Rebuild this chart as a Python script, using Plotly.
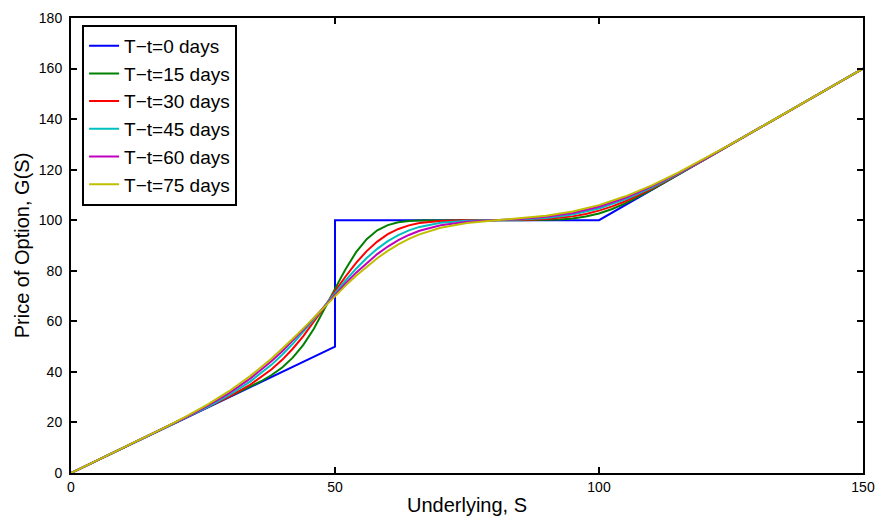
import plotly.graph_objects as go

# Payoff at expiry (T-t = 0 days)
s_0 = [0, 50, 50, 100, 150]
g_0 = [0, 50, 100, 100, 160]

s_15 = [0, 20, 30, 36, 38, 40, 42, 44, 46, 48, 49, 50, 51, 52, 54, 56, 58, 60, 62, 64, 66, 70, 80, 85, 90, 92.5, 95, 97.5, 100, 102.5, 105, 107.5, 110, 115, 120, 130, 140, 150]
g_15 = [0, 20, 30.0, 36.3, 38.76, 41.76, 45.62, 50.68, 57.07, 64.63, 68.69, 72.77, 76.79, 80.63, 87.37, 92.52, 96.0, 98.08, 99.17, 99.68, 99.89, 99.99, 100.0, 100.01, 100.1, 100.28, 100.68, 101.44, 102.68, 104.44, 106.68, 109.28, 112.1, 118.01, 124.0, 136.0, 148.0, 160.0]

s_30 = [0, 20, 26, 30, 34, 38, 40, 42, 44, 46, 48, 50, 52, 54, 56, 58, 60, 62, 64, 66, 70, 75, 80, 85, 90, 95, 97.5, 100, 102.5, 105, 110, 115, 120, 130, 140, 150]
g_30 = [0, 20, 26.02, 30.27, 35.01, 41.01, 44.77, 49.16, 54.17, 59.77, 65.74, 71.84, 77.74, 83.12, 87.78, 91.56, 94.46, 96.55, 97.96, 98.86, 99.70, 99.96, 100.02, 100.11, 100.47, 101.52, 102.47, 103.79, 105.47, 107.52, 112.47, 118.11, 124.02, 136.0, 148.0, 160.0]

s_45 = [0, 20, 26, 30, 34, 38, 40, 42, 44, 46, 48, 50, 52, 54, 56, 58, 60, 62, 64, 66, 70, 75, 80, 85, 90, 95, 100, 105, 110, 115, 120, 125, 130, 140, 150]
g_45 = [0, 20.01, 26.31, 30.90, 36.27, 42.88, 46.78, 51.11, 55.80, 60.81, 65.97, 71.14, 76.15, 80.83, 85.04, 88.67, 91.70, 94.13, 95.97, 97.35, 98.97, 99.76, 100.03, 100.30, 100.91, 102.24, 104.63, 108.24, 112.91, 118.30, 124.08, 130.02, 136.0, 148.0, 160.0]

s_60 = [0, 18, 22, 26, 30, 34, 38, 40, 42, 44, 46, 48, 50, 52, 54, 56, 58, 60, 62, 64, 66, 70, 75, 80, 85, 90, 95, 100, 105, 110, 115, 120, 125, 130, 140, 150]
g_60 = [0, 18.10, 22.28, 26.73, 31.68, 37.43, 44.27, 48.14, 52.29, 56.70, 61.26, 65.92, 70.54, 75.02, 79.26, 83.13, 86.60, 89.59, 92.11, 94.17, 95.81, 98.01, 99.38, 100.0, 100.51, 101.35, 102.88, 105.35, 108.88, 113.36, 118.56, 124.20, 130.06, 136.02, 148.0, 160.0]

s_75 = [0, 14, 18, 22, 26, 30, 34, 38, 40, 42, 44, 46, 48, 50, 52, 54, 56, 58, 60, 62, 64, 66, 70, 75, 80, 85, 90, 95, 100, 105, 110, 115, 120, 125, 130, 135, 140, 150]
g_75 = [0, 14.09, 18.24, 22.57, 27.24, 32.45, 38.42, 45.30, 49.09, 53.08, 57.23, 61.48, 65.77, 70.01, 74.13, 78.03, 81.67, 84.97, 87.90, 90.45, 92.61, 94.39, 97.01, 98.89, 99.91, 100.70, 101.76, 103.46, 105.98, 109.46, 113.80, 118.84, 124.35, 130.13, 136.04, 142.01, 148.0, 160.0]

labels = ["T\u2212t=0 days", "T\u2212t=15 days", "T\u2212t=30 days",
          "T\u2212t=45 days", "T\u2212t=60 days", "T\u2212t=75 days"]
colors = ["#0000FF", "#008000", "#FF0000", "#00BFBF", "#BF00BF", "#BFBF00"]

x_ticks = [0, 50, 100, 150]
y_ticks = [0, 20, 40, 60, 80, 100, 120, 140, 160, 180]

series = [(s_0, g_0), (s_15, g_15), (s_30, g_30), (s_45, g_45), (s_60, g_60), (s_75, g_75)]

fig = go.Figure()
for (xs, ys), name, col in zip(series, labels, colors):
    fig.add_trace(go.Scatter(x=xs, y=ys, mode="lines", name=name,
                             line=dict(color=col, width=2)))

font_family = "Liberation Sans, Arial, sans-serif"
fig.update_layout(
    width=880, height=522,
    margin=dict(l=71, r=17, t=18, b=49, autoexpand=False),
    paper_bgcolor="white", plot_bgcolor="white",
    font=dict(family=font_family, color="black", size=14),
    showlegend=True,
    legend=dict(x=0.014, y=0.985, xanchor="left", yanchor="top",
                bgcolor="white", bordercolor="black", borderwidth=2,
                font=dict(family=font_family, size=19, color="black"),
                itemwidth=30, tracegroupgap=0),
)
fig.update_xaxes(range=[0, 150], tickvals=x_ticks, ticks="inside", ticklen=6,
                 tickwidth=1.5, tickcolor="black", showline=True, linecolor="black",
                 linewidth=2, mirror="ticks", showgrid=False, zeroline=False,
                 automargin=False, tickfont=dict(size=14),
                 title=dict(text="Underlying, S", font=dict(size=20), standoff=4))
fig.update_yaxes(range=[0, 180], tickvals=y_ticks, ticks="inside", ticklen=6,
                 tickwidth=1.5, tickcolor="black", showline=True, linecolor="black",
                 linewidth=2, mirror="ticks", showgrid=False, zeroline=False,
                 automargin=False, tickfont=dict(size=14), ticklabelstandoff=4,
                 title=dict(text="Price of Option, G(S)", font=dict(size=20), standoff=4))

fig.write_html("out.html")
